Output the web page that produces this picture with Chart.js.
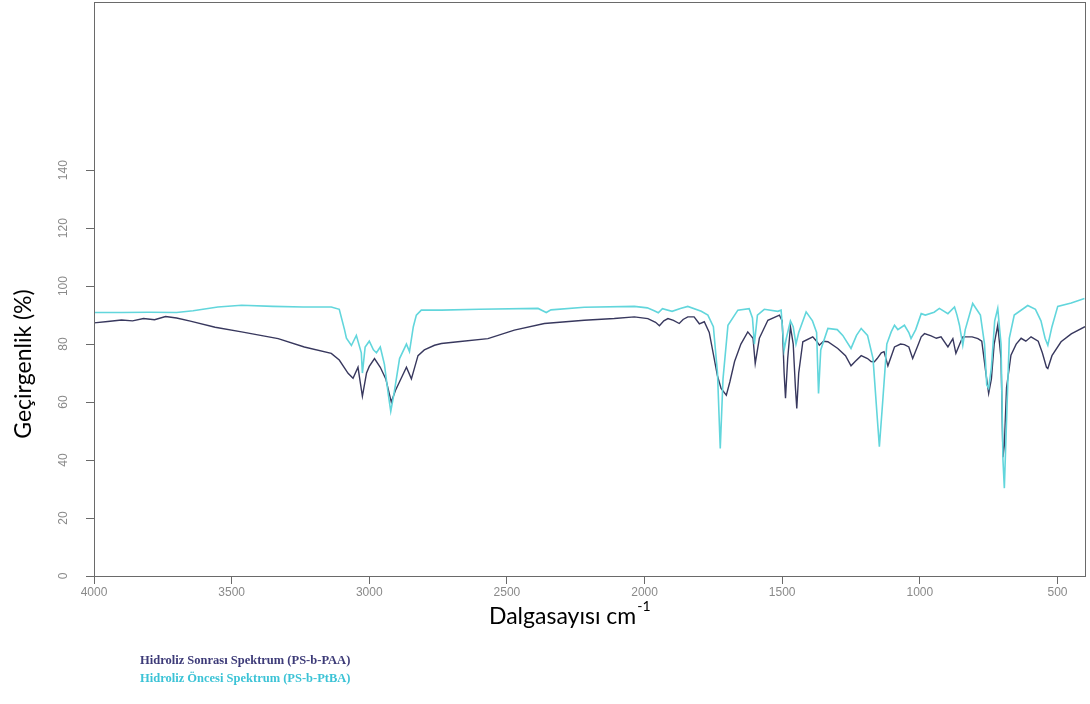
<!DOCTYPE html>
<html>
<head>
<meta charset="utf-8">
<script src="https://cdn.jsdelivr.net/npm/chart.js@4.4.1/dist/chart.umd.min.js"></script>
<style>
  body { margin: 0; background: #fff; }
  #wrap { position: relative; width: 1090px; height: 704px; overflow: hidden; }
  #yTitle {
    position: absolute; left: -78px; top: 350px; width: 200px; text-align: center;
    font: 23px Lato, "Open Sans", sans-serif; color: #000; white-space: nowrap;
    transform: rotate(-90deg); transform-origin: center;
  }
  #xTitle {
    position: absolute; left: 489px; top: 601px;
    font: 23px Lato, "Open Sans", sans-serif; color: #000; white-space: nowrap;
  }
  #xTitle sup { font-size: 14px; position: relative; top: -4px; margin-left: 1px; }
  .leg {
    position: absolute; left: 140px; font: bold 12.5px "Liberation Serif", "DejaVu Serif", serif;
    white-space: nowrap;
  }
</style>
</head>
<body>
<div id="wrap">
  <canvas id="mainChart" width="1090" height="704"></canvas>
  <div id="yTitle">Geçirgenlik (%)</div>
  <div id="xTitle">Dalgasayısı cm<sup>-1</sup></div>
  <div class="leg" style="top:653px;color:#3d3b78">Hidroliz Sonrası Spektrum (PS-b-PAA)</div>
  <div class="leg" style="top:671px;color:#3cc3d6">Hidroliz Öncesi Spektrum (PS-b-PtBA)</div>
</div>
<script>
// after hydrolysis (PS-b-PAA)
const wnPAA = [4000,3950,3900,3860,3820,3780,3740,3700,3650,3560,3464,3331,3236,3138,3109,3077,3059,3041,3025,3010,3000,2981,2960,2940,2920,2905,2890,2865,2847,2823,2800,2763,2738,2678,2569,2473,2364,2219,2110,2037,1988,1960,1946,1930,1915,1895,1874,1860,1843,1820,1801,1783,1765,1747,1735,1722,1703,1690,1673,1650,1625,1606,1598,1583,1552,1510,1500,1493,1488,1480,1470,1460,1452,1447,1440,1425,1389,1375,1365,1350,1334,1298,1270,1250,1235,1213,1190,1177,1165,1155,1140,1130,1116,1092,1070,1056,1040,1026,1005,995,983,959,940,923,898,880,869,855,844,810,789,775,760,750,740,730,717,705,698,693,685,669,650,632,615,596,570,555,540,535,520,487,450,400];
const tPAA = [87.3,87.8,88.3,88.0,88.8,88.4,89.5,89.0,87.9,85.8,84.2,81.9,79.0,76.8,74.5,69.9,68.2,72,62,70,72.3,75,72,68,60,64,67,72,68,76,78,79.6,80.2,80.8,81.9,84.8,87.1,88.2,88.8,89.4,88.8,87.5,86.3,88,88.8,88.2,87.1,88.5,89.4,89.4,87,87.7,84,75,69,64.7,62.4,67,74,80,84.2,82,73.3,82,88.2,90,88,70,61.3,75,86,80,65,57.8,70,80.8,82.5,81,79.6,81,80.8,78.5,76,72.5,74,76,75,74,73.9,75,77,77.4,72.5,79,80,79.8,79,75,80,82.5,83.6,82.8,82,82.5,79,81.9,76.8,80,82.5,82.5,81.9,81,70,63,68,80,86.5,75,41,45,65,76.2,80,82,81,82.5,81,77,72,71.6,76,80.8,83.5,86];

// before hydrolysis (PS-b-PtBA)
const wnPtBA = [4000,3900,3800,3700,3640,3550,3464,3350,3240,3138,3109,3090,3083,3065,3047,3029,3025,3015,3000,2985,2974,2960,2945,2930,2922,2910,2890,2865,2854,2840,2829,2811,2738,2600,2387,2370,2357,2340,2219,2037,1990,1965,1950,1935,1900,1870,1843,1794,1770,1750,1735,1725,1715,1697,1661,1620,1608,1601,1590,1565,1516,1504,1493,1485,1470,1460,1450,1440,1413,1390,1375,1368,1360,1334,1300,1280,1250,1230,1213,1190,1170,1155,1147,1135,1120,1104,1092,1080,1056,1040,1032,1015,995,980,948,929,898,874,865,856,844,835,808,780,765,757,750,740,728,717,705,698,693,688,675,657,608,580,560,545,535,520,499,450,402];
const tPtBA = [90.9,90.9,91.0,90.9,91.5,92.8,93.4,93.0,92.8,92.8,92,85,82,79.5,83,77,70,79,81,78,77,79,73,62,56.8,63,75,80,77.4,86,90,91.7,91.7,92,92.3,91.5,90.9,91.8,92.7,93,92.5,91.5,90.8,92.2,91.3,92.3,93,91.3,90,86,70,44,68,86.5,91.7,92.2,89,80,90,92,91.3,91.7,78,82,88,86,80,84,91.1,88,84,63,78,85.4,85,83,78.5,83,85.4,83,75,55,44.6,60,80,84.2,86.5,85,86.5,84,81.9,85,90.5,90,91,92.3,90.5,92.8,90,86.5,79.6,85,94,90,80,66,64.7,72,88,92.3,80,40,30.3,45,82,90,93.3,92,88,82,79.6,86,93,94.2,95.7];

const xTicks = [4000,3500,3000,2500,2000,1500,1000,500];
const yTicks = [0,20,40,60,80,100,120,140];

function toPoints(xs, ys) {
    return xs.map((x, i) => ({x: x, y: ys[i]}));
}

const boxPlugin = {
    id: 'box',
    afterDraw(chart) {
        const ctx = chart.ctx;
        const a = chart.chartArea;
        const y = chart.scales.y;
        ctx.save();
        ctx.strokeStyle = '#6a6a6a';
        ctx.lineWidth = 1;
        ctx.strokeRect(a.left + 0.5, a.top + 0.5, a.right - a.left, a.bottom - a.top);
        // y tick labels, rotated like the original
        ctx.fillStyle = '#8a8a8a';
        ctx.font = '12px "Liberation Sans", Arial, sans-serif';
        ctx.textAlign = 'center';
        ctx.textBaseline = 'middle';
        yTicks.forEach(v => {
            ctx.save();
            ctx.translate(64, y.getPixelForValue(v));
            ctx.rotate(-Math.PI / 2);
            ctx.fillText(String(v), 0, 0);
            ctx.restore();
        });
        ctx.restore();
    }
};

new Chart(document.getElementById('mainChart'), {
    type: 'scatter',
    data: {
        datasets: [
            {
                label: 'Hidroliz Öncesi Spektrum (PS-b-PtBA)',
                data: toPoints(wnPtBA, tPtBA),
                showLine: true,
                borderColor: '#62d6dc',
                borderWidth: 1.6,
                pointRadius: 0,
                tension: 0
            },
            {
                label: 'Hidroliz Sonrası Spektrum (PS-b-PAA)',
                data: toPoints(wnPAA, tPAA),
                showLine: true,
                borderColor: '#38385e',
                borderWidth: 1.4,
                pointRadius: 0,
                tension: 0
            }
        ]
    },
    options: {
        responsive: false,
        animation: false,
        layout: { padding: { left: 0, top: 2, right: 5, bottom: 0 } },
        plugins: { legend: { display: false }, tooltip: { enabled: false } },
        scales: {
            x: {
                type: 'linear',
                reverse: true,
                min: 400,
                max: 4000,
                afterBuildTicks: s => { s.ticks = xTicks.map(v => ({value: v})); },
                afterFit: s => { s.height = 128; },
                grid: { drawOnChartArea: false, tickLength: 8, color: '#6a6a6a' },
                border: { color: '#6a6a6a' },
                ticks: {
                    color: '#8a8a8a',
                    font: { size: 12, family: '"Liberation Sans", Arial, sans-serif' },
                    padding: 1,
                    maxRotation: 0,
                    autoSkip: false,
                    callback: v => String(v)
                }
            },
            y: {
                min: 0,
                max: 198,
                afterBuildTicks: s => { s.ticks = yTicks.map(v => ({value: v})); },
                afterFit: s => { s.width = 94; },
                grid: { drawOnChartArea: false, tickLength: 8, color: '#6a6a6a' },
                border: { color: '#6a6a6a' },
                ticks: { display: false }
            }
        }
    },
    plugins: [boxPlugin]
});
</script>
</body>
</html>
